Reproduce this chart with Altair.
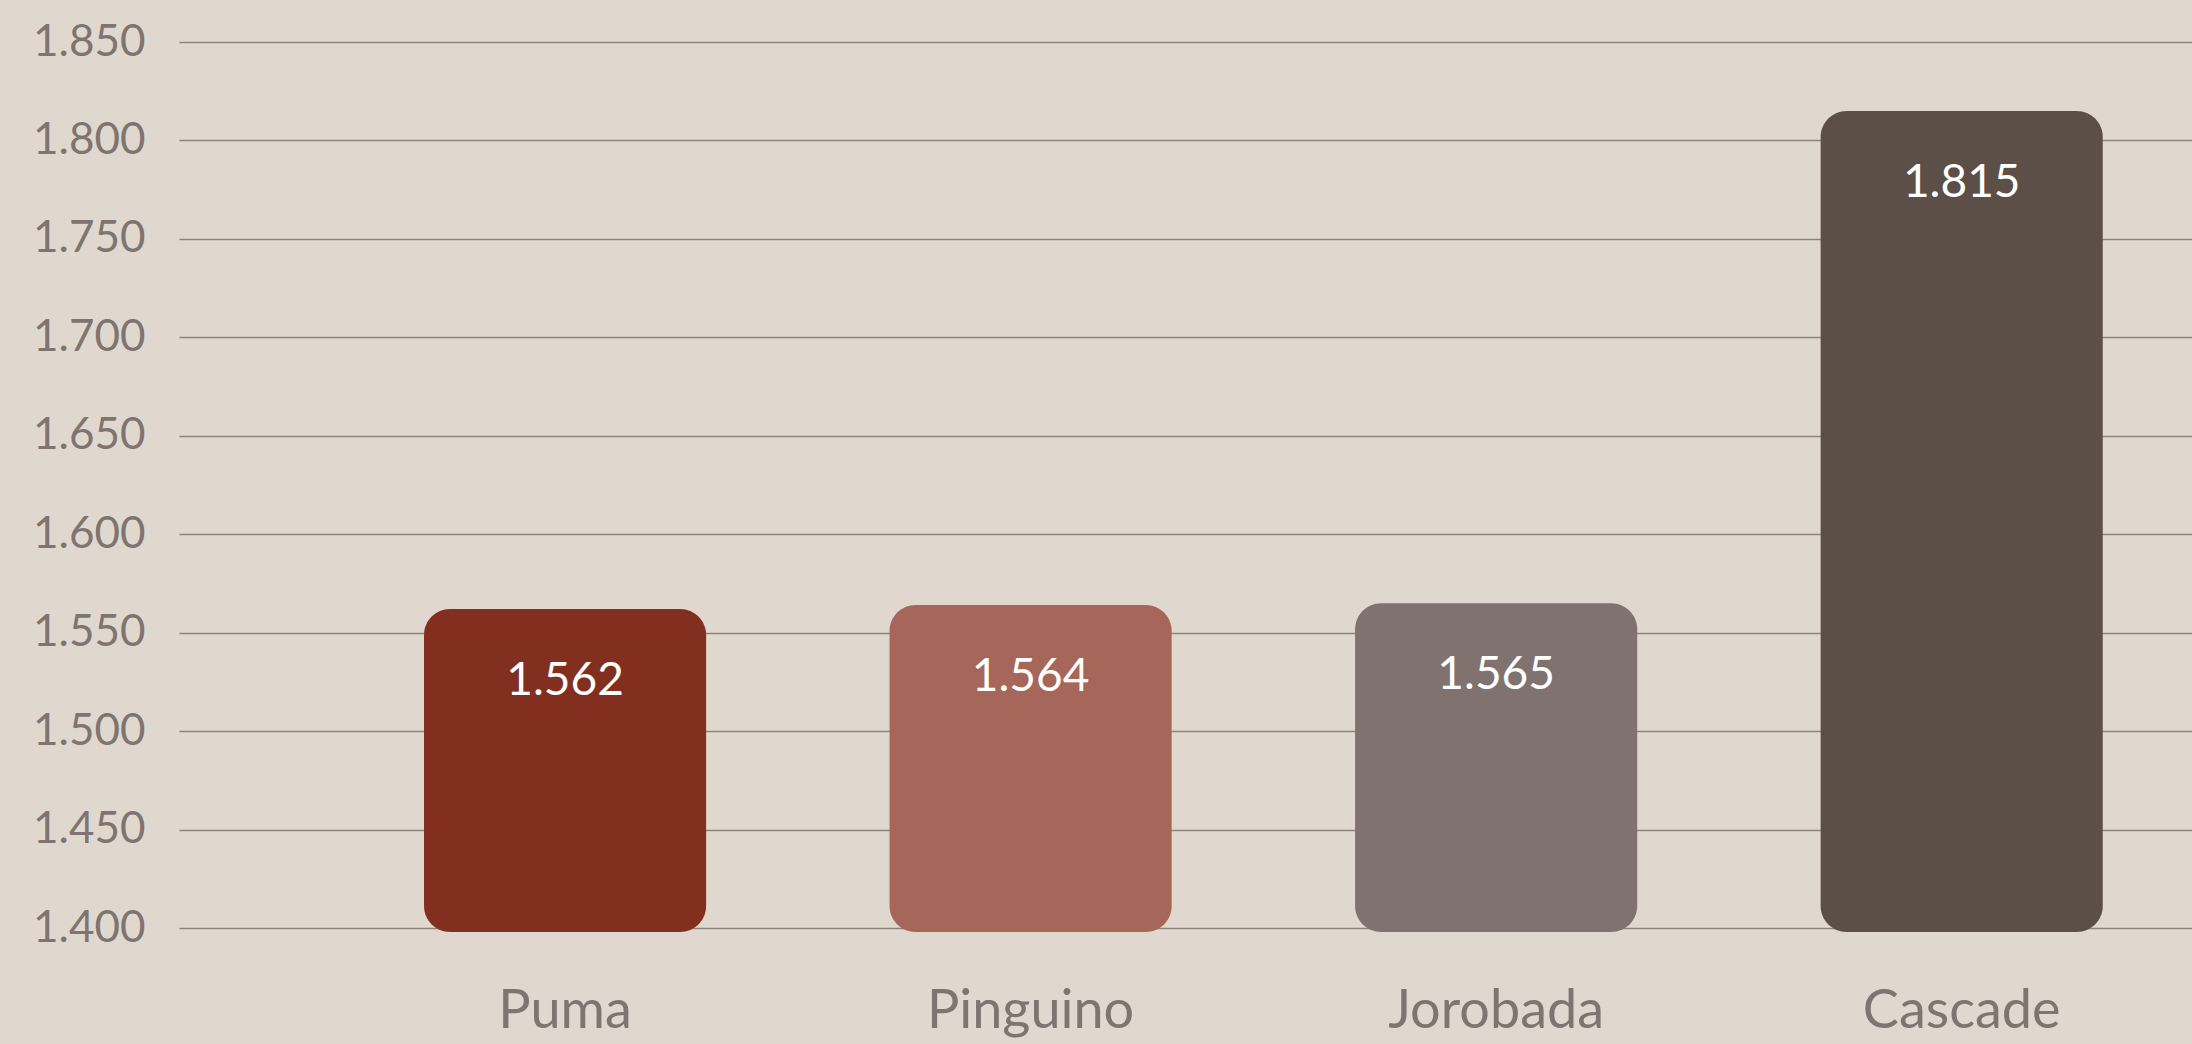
import altair as alt
import pandas as pd

categories = ["Puma", "Pinguino", "Jorobada", "Cascade"]
values = [1.562, 1.564, 1.565, 1.815]
colors = ["#832F20", "#A66659", "#80736F", "#5C4F47"]
y_ticks = [1.40, 1.45, 1.50, 1.55, 1.60, 1.65, 1.70, 1.75, 1.80, 1.85]

df = pd.DataFrame({"cat": categories, "val": values, "color": colors})

FONT = "Lato"
GRAY = "#7F7470"

x = alt.X("cat:N", sort=categories, title=None,
          scale=alt.Scale(paddingInner=0.394, paddingOuter=0.359, align=0.733),
          axis=alt.Axis(labelAngle=0, labelFontSize=54, labelColor=GRAY, labelFont=FONT,
                        labelPadding=56, labelLimit=0, ticks=False, domain=False, grid=False))
y = alt.Y("val:Q", title=None,
          scale=alt.Scale(domain=[1.4, 1.85], zero=False, nice=False),
          axis=alt.Axis(values=y_ticks, format=".3f", labelFontSize=44, labelColor=GRAY,
                        labelFont=FONT, labelPadding=34, labelLimit=0, ticks=False, domain=False,
                        grid=True, gridColor="#8E827B", gridWidth=1.5))

bars = alt.Chart(df).mark_bar(cornerRadius=26, clip=False).encode(
    x=x, y=y, y2=alt.datum(1.398), color=alt.Color("color:N", scale=None)
)

labels = alt.Chart(df).mark_text(font=FONT, fontSize=46, color="white", baseline="middle",
                                 dy=72).encode(
    x=alt.X("cat:N", sort=categories), y="val:Q", text=alt.Text("val:Q", format=".3f")
)

chart = (bars + labels).properties(
    width=2013, height=886,
    autosize=alt.AutoSizeParams(type="none"),
    padding={"left": 179, "top": 42, "right": 0, "bottom": 116},
    background="#E0D8CE",
).configure_view(stroke=None)

chart.save("out.html", embed_options={"renderer": "svg", "actions": False})
